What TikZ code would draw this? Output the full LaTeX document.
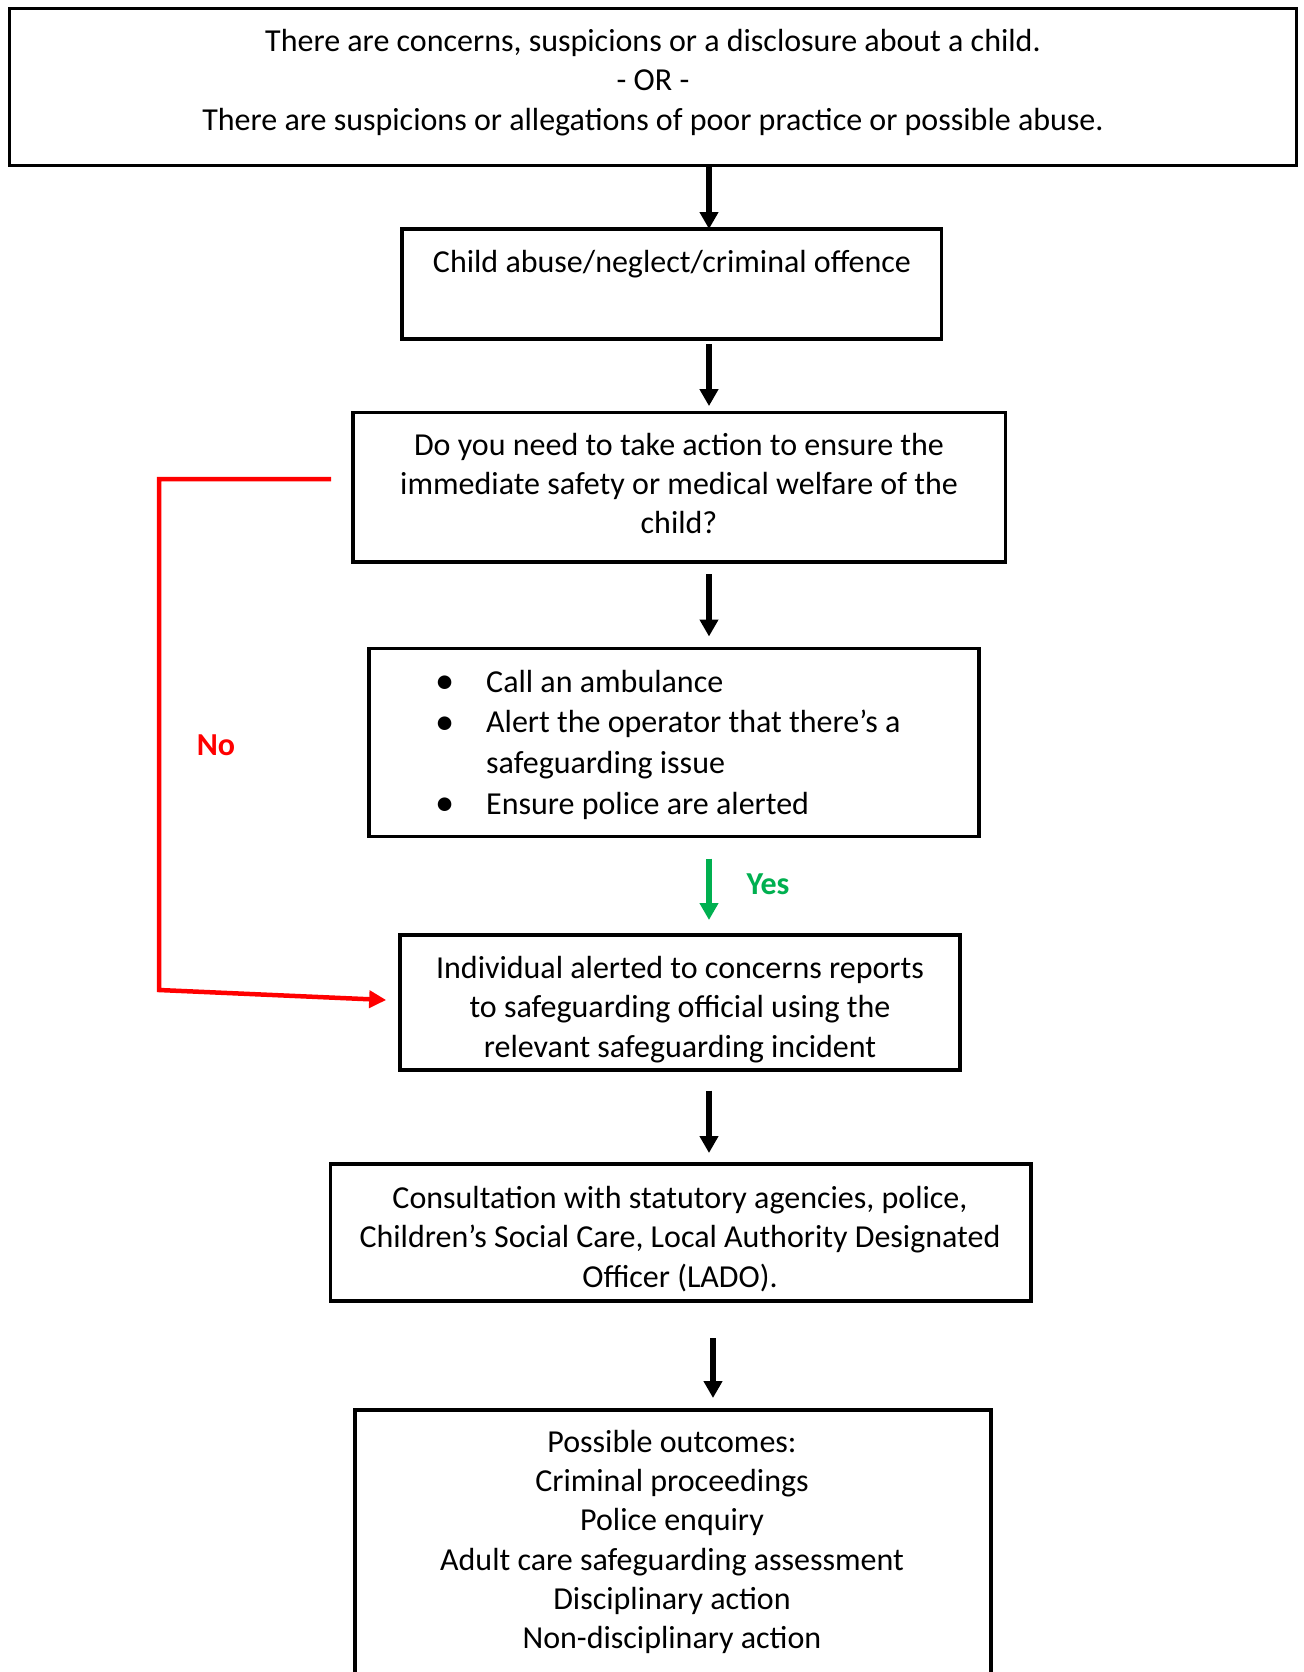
\documentclass[tikz,border=0pt]{standalone}
\usepackage{fontspec}
\usepackage{graphicx}
\setmainfont{Carlito}
\usetikzlibrary{arrows.meta,calc}
\definecolor{yesgreen}{HTML}{00B050}
\definecolor{nored}{HTML}{FF0000}
\newcommand{\mybul}{\makebox[0pt]{\raisebox{-1.6pt}{\scalebox{1.2}{\textbullet}}}}
\begin{document}
\begin{tikzpicture}[x=1pt,y=-1pt,
  box/.style={draw, line width=3.5pt, inner sep=0pt, outer sep=0pt},
  txt/.style={inner sep=0pt, align=center, font=\fontsize{32}{39.3}\selectfont},
  lbl/.style={inner sep=0pt, font=\fontsize{32}{39.3}\selectfont\bfseries},
  arr/.style={line width=5.5pt, -{Triangle[length=17pt,width=18pt]}},
]
\path[use as bounding box, fill=white] (0,0) rectangle (1303,1672);
\clip (0,0) rectangle (1303,1672);

% boxes
\node[box, minimum width=1287pt, minimum height=157pt] (b1) at (653,87) {};
\node[box, minimum width=539.5pt, minimum height=110pt] (b2) at (671.7,284) {};
\node[box, minimum width=652.5pt, minimum height=149.4pt] (b3) at (679.3,487.3) {};
\node[box, minimum width=610pt, minimum height=188pt] (b4) at (674,742.5) {};
\node[box, minimum width=559.7pt, minimum height=135pt] (b5) at (680,1002.5) {};
\node[box, minimum width=700.4pt, minimum height=137pt] (b6) at (680.8,1232.5) {};
\node[box, minimum width=636pt, minimum height=290pt] (b7) at (673,1555) {};

% texts
\node[txt] (t1) at (653,82.5) {There are concerns, suspicions or a disclosure about a child.\\- OR -\\There are suspicions or allegations of poor practice or possible abuse.};
\node[txt] (t2) at (672,264) {Child abuse/neglect/criminal offence};
\node[txt] (t3) at (679,483.5) {Do you need to take action to ensure the\\immediate safety or medical welfare of the\\child?};
\node[inner sep=0pt, anchor=west, font=\fontsize{32}{40.7}\selectfont] (t4) at (444.6,745) {%
  \begin{tabular}{@{}p{41.4pt}@{}l@{}}
  \mybul & Call an ambulance\\
  \mybul & Alert the operator that there’s a\\
   & safeguarding issue\\
  \mybul & Ensure police are alerted
  \end{tabular}};
\node[txt] (t5) at (680,1009.5) {Individual alerted to concerns reports\\to safeguarding official using the\\relevant safeguarding incident};
\node[txt] (t6) at (680,1239) {Consultation with statutory agencies, police,\\Children’s Social Care, Local Authority Designated\\Officer (LADO).};
\node[txt] (t7) at (672,1542) {Possible outcomes:\\Criminal proceedings\\Police enquiry\\Adult care safeguarding assessment\\Disciplinary action\\Non-disciplinary action};

% labels
\node[lbl, text=nored] (no) at (216,745) {No};
\node[lbl, text=yesgreen] (yes) at (768,884) {Yes};

% connectors
\coordinate (X) at (709,0);
\coordinate (X2) at (713,0);
\draw[arr] (b1.south -| X) -- (b2.north -| X);
\draw[arr, shorten <=5pt, shorten >=6.5pt] (b2.south -| X) -- (b3.north -| X);
\draw[arr, shorten <=12pt, shorten >=12pt] (b3.south -| X) -- (b4.north -| X);
\draw[arr, yesgreen, shorten <=22pt, shorten >=15pt] (b4.south -| X) -- (b5.north -| X);
\draw[arr, shorten <=20.5pt, shorten >=11pt] (b5.south -| X) -- (b6.north -| X);
\draw[arr, shorten <=37pt, shorten >=12pt] (b6.south -| X2) -- (b7.north -| X2);

\coordinate (r1) at ($(b3.west)+(-22,-8.3)$);
\coordinate (rc) at (159,990);
\coordinate (rt) at ($(b5.west)+(-14,-2.5)$);
\draw[nored, line width=4.5pt, -{Triangle[length=17pt,width=17pt]}] (r1) -| (rc) -- (rt);
\end{tikzpicture}
\end{document}
